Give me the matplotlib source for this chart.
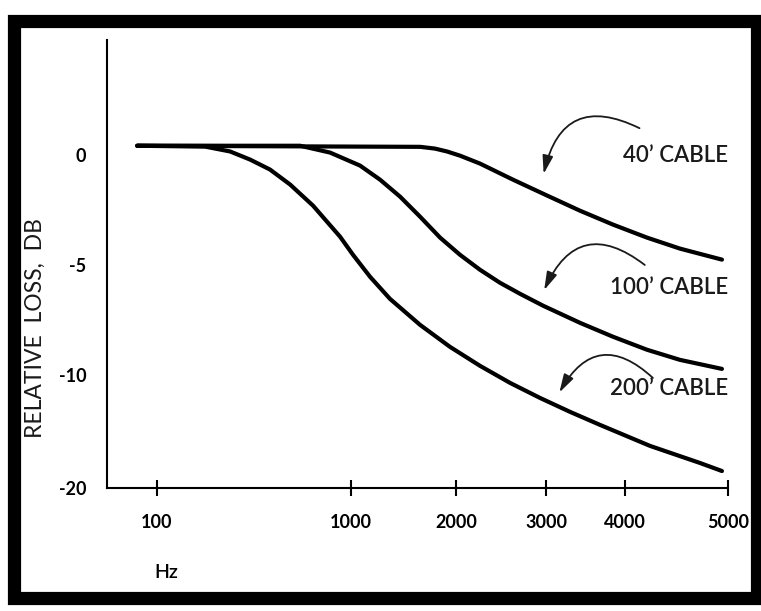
import numpy as np
import matplotlib
matplotlib.use("Agg")
import matplotlib.pyplot as plt
from matplotlib.patches import Rectangle

# ---- data (Hz, relative loss in dB) ----
hz_40 = [79, 1580, 1741, 1884, 2036, 2228, 2585, 3011, 3396, 3829, 4195, 4506, 4935]
db_40 = [0.4, 0.35, 0.27, 0.14, -0.05, -0.41, -1.14, -1.86, -2.55, -3.18, -3.77,
         -4.27, -4.77]

hz_100 = [79, 546, 779, 1061, 1211, 1382, 1577, 1800, 2036, 2228, 2438, 2668, 2960,
          3396, 3829, 4195, 4506, 4935]
db_100 = [0.4, 0.4, 0.09, -0.5, -1.14, -1.91, -2.82, -3.77, -4.55, -5.23, -5.82,
          -6.32, -6.86, -7.64, -8.27, -8.86, -9.32, -9.73]

hz_200 = [79, 177, 238, 302, 382, 485, 637, 878, 1013, 1134, 1293, 1577, 1922, 2228,
          2551, 2920, 3274, 3651, 4223, 4706, 4935]
db_200 = [0.4, 0.36, 0.14, -0.23, -0.68, -1.36, -2.32, -3.73, -4.55, -5.55, -6.55,
          -7.73, -8.73, -9.59, -10.71, -12.04, -13.27, -14.42, -16.28, -17.79, -18.5]

x_ticks = [100, 1000, 2000, 3000, 4000, 5000]
x_ticklabels = ["100", "1000", "2000", "3000", "4000", "5000"]
y_ticks = [0, -5, -10, -20]
y_ticklabels = ["0", "-5", "-10", "-20"]

cable_labels = ["40\u2019 CABLE", "100\u2019 CABLE", "200\u2019 CABLE"]

# ---- the hand-drawn (non-uniform) axis scales of the original ----
X_LOG = np.log10([10, 100, 1000, 2000, 3000, 4000, 5000, 50000])
X_POS = np.array([-37, 157, 351, 456, 546, 625, 728, 1758], dtype=float)
Y_DB = np.array([-30, -20, -10, -5, 0, 10], dtype=float)
Y_POS = np.array([-601, -488, -375, -265, -155, 65], dtype=float)


def x_fwd(v):
    v = np.maximum(np.asarray(v, dtype=float), 1e-3)
    return np.interp(np.log10(v), X_LOG, X_POS, left=-1e4, right=1e4)


def x_inv(p):
    return 10 ** np.interp(p, X_POS, X_LOG)


def y_fwd(v):
    return np.interp(v, Y_DB, Y_POS)


def y_inv(p):
    return np.interp(p, Y_POS, Y_DB)


plt.rcParams['font.family'] = ['Lato', 'DejaVu Sans']

fig = plt.figure(figsize=(7.61, 6.11), dpi=100)
ax = fig.add_axes([107 / 761, 123 / 611, 621 / 761, 448 / 611])
ax.set_xscale('function', functions=(x_fwd, x_inv))
ax.set_yscale('function', functions=(y_fwd, y_inv))

for hz, db in [(hz_40, db_40), (hz_100, db_100), (hz_200, db_200)]:
    ax.plot(hz, db, color='black', linewidth=3, solid_capstyle='round',
            solid_joinstyle='round')

ax.set_xlim(55.2, 5000)
ax.set_ylim(-20, 5.2)

ax.set_xticks(x_ticks)
ax.set_xticklabels(x_ticklabels, fontsize=13, fontweight='bold')
ax.set_yticks(y_ticks)
ax.set_yticklabels(y_ticklabels, fontsize=13, fontweight='bold')
ax.minorticks_off()
ax.tick_params(axis='x', direction='inout', length=12, width=1.5, pad=13)
ax.tick_params(axis='y', length=0, pad=15)

for side in ['top', 'right']:
    ax.spines[side].set_visible(False)
for side in ['left', 'bottom']:
    ax.spines[side].set_linewidth(1.5)

fig.text(35 / 761, 1 - 328 / 611, 'RELATIVE  LOSS,  DB', fontsize=16.5,
         rotation=90, ha='center', va='center', color='#1a1a1a')
fig.text(166 / 761, 1 - 572 / 611, 'Hz', fontsize=14, fontweight='semibold',
         ha='center', va='center')

# curved arrows and cable labels
arrow_tips = [(2960, -1.0), (2960, -6.27), (3134, -11.77)]
arrow_tails = [(4150, 1.14), (4195, -5.09), (4268, -10.44)]
label_pos = [(5000, -0.05), (5000, -6.05), (5000, -11.25)]
for lab, tip, tail, pos in zip(cable_labels, arrow_tips, arrow_tails, label_pos):
    ax.annotate('', xy=tip, xytext=tail,
                arrowprops=dict(arrowstyle='-|>,head_length=1.1,head_width=0.32',
                                connectionstyle='arc3,rad=0.65',
                                color='#1a1a1a', linewidth=1.3))
    ax.text(pos[0], pos[1], lab, fontsize=16, fontweight='semibold',
            ha='right', va='center', color='#1a1a1a')

# thick black frame of the printed figure
fig.patches.append(Rectangle((14 / 761, 1 - 598 / 611), 743 / 761, 577 / 611,
                             transform=fig.transFigure, fill=False,
                             edgecolor='black', linewidth=9.5))

fig.savefig('out.png', dpi=100)
